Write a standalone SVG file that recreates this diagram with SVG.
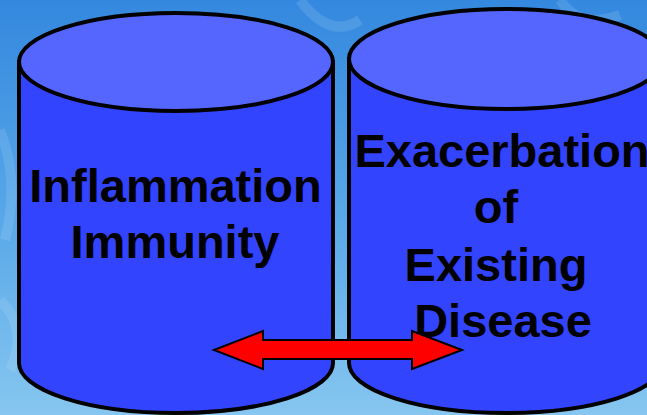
<svg xmlns="http://www.w3.org/2000/svg" width="647" height="415" viewBox="0 0 647 415">
<defs>
<linearGradient id="bg" x1="0" y1="0" x2="0" y2="1">
<stop offset="0" stop-color="#3488de"/>
<stop offset="0.5" stop-color="#56a6e8"/>
<stop offset="1" stop-color="#86c6f0"/>
</linearGradient>
<style>
.side{fill:#3344ff;stroke:#000;stroke-width:4}
.top{fill:#5566ff;stroke:#000;stroke-width:4}
.lbl{font-family:"Liberation Sans",Arial,sans-serif;font-weight:bold;font-size:47px;fill:#000;text-anchor:middle}
</style>
</defs>
<rect width="647" height="415" fill="url(#bg)"/>
<g opacity="0.15" fill="none" stroke="#cfe8ff" stroke-width="10">
<path d="M300 0 Q330 40 360 20"/>
<path d="M560 0 Q580 30 620 15"/>
<path d="M0 130 Q20 180 5 240"/>
<path d="M0 300 Q30 330 10 370"/>
</g>
<g id="cyl-left">
<path class="side" d="M19 62 L19 363 A157 50 0 0 0 333 363 L333 62 Z"/>
<ellipse class="top" cx="176" cy="62" rx="157" ry="49"/>
<text class="lbl" x="175.5" y="202">Inflammation</text>
<text class="lbl" x="175" y="258">Immunity</text>
</g>
<g id="cyl-right">
<path class="side" d="M349 59 L349 363 A157 50 0 0 0 663 363 L663 59 Z"/>
<ellipse class="top" cx="506" cy="59" rx="157" ry="50"/>
<text class="lbl" x="502" y="167">Exacerbation</text>
<text class="lbl" x="496" y="223">of</text>
<text class="lbl" x="496" y="281">Existing</text>
<text class="lbl" x="503" y="337">Disease</text>
</g>
<g id="connectors">
<polygon points="214,350 263,331 263,340 412,340 412,331 462,350 412,369 412,359 263,359 263,369" fill="#ff0000" stroke="#000" stroke-width="2"/>
</g>
</svg>
